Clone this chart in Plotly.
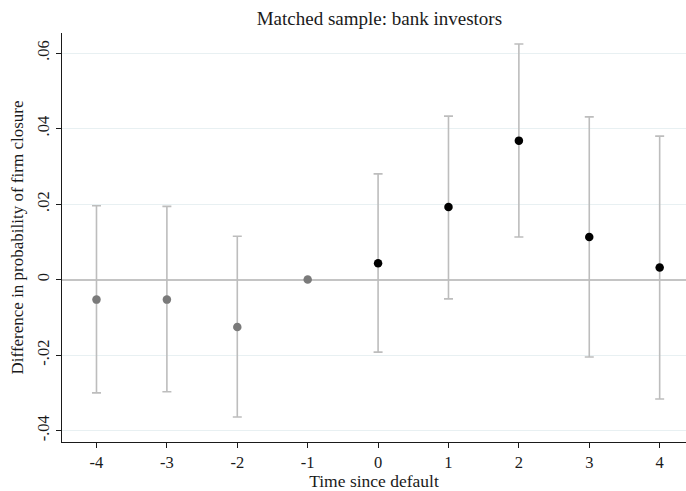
import plotly.graph_objects as go

# Event-study estimates relative to the default year (t = -1 is the omitted period)
periods = [-4, -3, -2, -1, 0, 1, 2, 3, 4]
coef = [-0.0053, -0.0053, -0.01255, 0.0, 0.00435, 0.0192, 0.0368, 0.0113, 0.0032]
ci_low = [-0.0300, -0.0297, -0.0364, None, -0.0192, -0.0051, 0.0113, -0.0205, -0.0316]
ci_high = [0.01955, 0.0194, 0.0115, None, 0.0280, 0.0433, 0.0624, 0.0431, 0.0380]

y_ticks = [-0.04, -0.02, 0, 0.02, 0.04, 0.06]
y_tick_text = ["-.04", "-.02", "0", ".02", ".04", ".06"]

FONT = "Liberation Serif, Times New Roman, serif"
PRE_COLOR = "#7a7a7a"
POST_COLOR = "#000000"
CI_COLOR = "#bdbdbd"

fig = go.Figure()

for pre in (True, False):
    idx = [i for i, p in enumerate(periods) if (p < 0) == pre]
    with_ci = [i for i in idx if ci_low[i] is not None]
    no_ci = [i for i in idx if ci_low[i] is None]
    color = PRE_COLOR if pre else POST_COLOR
    if with_ci:
        fig.add_trace(go.Scatter(
            x=[periods[i] for i in with_ci],
            y=[coef[i] for i in with_ci],
            mode="markers",
            marker=dict(color=color, size=8.5),
            error_y=dict(
                type="data", symmetric=False,
                array=[ci_high[i] - coef[i] for i in with_ci],
                arrayminus=[coef[i] - ci_low[i] for i in with_ci],
                color=CI_COLOR, thickness=1.6, width=4.5,
            ),
            showlegend=False, hoverinfo="x+y",
        ))
    if no_ci:
        fig.add_trace(go.Scatter(
            x=[periods[i] for i in no_ci],
            y=[coef[i] for i in no_ci],
            mode="markers",
            marker=dict(color=color, size=8.5),
            showlegend=False, hoverinfo="x+y",
        ))

fig.update_layout(
    width=686, height=491,
    margin=dict(l=62, r=0, t=33, b=49),
    paper_bgcolor="white", plot_bgcolor="white",
    font=dict(family=FONT, size=16, color="#1a1a1a"),
    title=dict(text="Matched sample: bank investors", x=0.553, xanchor="center",
               y=0.962, yanchor="middle", font=dict(family=FONT, size=19, color="#1a1a1a")),
)

fig.update_xaxes(
    range=[-4.49, 4.374], tickmode="array", tickvals=periods,
    ticktext=[str(p) for p in periods],
    ticks="outside", ticklen=5, tickcolor="#1a1a1a", tickwidth=1.2,
    showline=True, linecolor="#1a1a1a", linewidth=1.3,
    showgrid=False, zeroline=False,
    tickfont=dict(family=FONT, size=16.5),
    title=dict(text="Time since default", standoff=3, font=dict(family=FONT, size=17.5)),
)
fig.update_yaxes(
    range=[-0.043, 0.0653], tickmode="array", tickvals=y_ticks, ticktext=y_tick_text,
    tickangle=-90,
    ticks="outside", ticklen=5, tickcolor="#1a1a1a", tickwidth=1.2,
    showline=True, linecolor="#1a1a1a", linewidth=1.3,
    showgrid=True, gridcolor="#e8f0f2", gridwidth=1.2,
    zeroline=True, zerolinecolor="#c4c4c4", zerolinewidth=1.8,
    tickfont=dict(family=FONT, size=16.5),
    title=dict(text="Difference in probability of firm closure", standoff=6,
               font=dict(family=FONT, size=17)),
)

fig.write_html("out.html")
